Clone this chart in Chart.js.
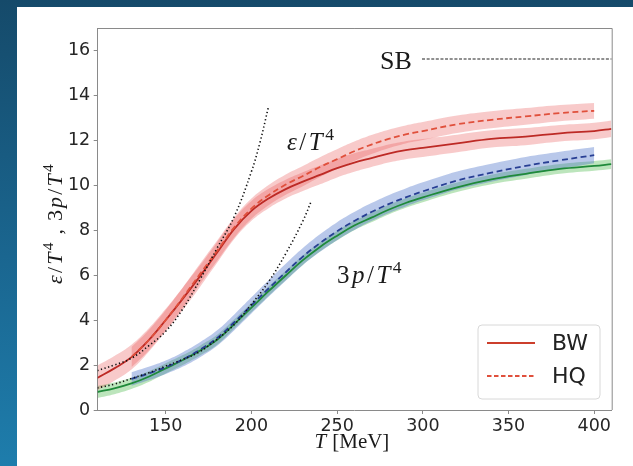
<!DOCTYPE html>
<html>
<head>
<meta charset="utf-8">
<script src="https://cdn.jsdelivr.net/npm/chart.js@4.4.1/dist/chart.umd.min.js"></script>
<style>
  html, body { margin:0; padding:0; }
  body { width:633px; height:466px; overflow:hidden; position:relative;
         background: linear-gradient(to bottom, #154a6a 0%, #1a6690 55%, #1e7dac 100%); }
  #wrap { position:absolute; left:17px; top:7px; width:616px; height:459px; background:#ffffff; }
  canvas { display:block; }
</style>
</head>
<body>
<div id="wrap"><canvas id="c" width="616" height="459"></canvas></div>
<script>
// ---------- data ----------
const xTicks = [150, 200, 250, 300, 350, 400];
const yTicks = [0, 2, 4, 6, 8, 10, 12, 14, 16];

// BW (solid) temperatures and values
const T_BW = [110,120,130,140,150,160,170,180,190,200,210,220,230,240,250,260,270,280,290,300,320,340,360,380,400,410];
const eps_BW = [1.42,1.85,2.35,3.1,4.0,4.95,5.95,7.0,8.05,8.85,9.4,9.82,10.15,10.45,10.75,11.0,11.2,11.4,11.55,11.65,11.85,12.05,12.15,12.3,12.4,12.5];
const eps_BW_err = [0.55,0.55,0.55,0.52,0.5,0.5,0.48,0.46,0.45,0.44,0.43,0.42,0.42,0.42,0.41,0.41,0.4,0.4,0.4,0.4,0.39,0.38,0.38,0.37,0.37,0.37];
const p3_BW = [0.8,0.96,1.18,1.48,1.85,2.22,2.64,3.12,3.82,4.55,5.28,5.98,6.66,7.25,7.75,8.2,8.55,8.9,9.2,9.45,9.9,10.25,10.5,10.72,10.85,10.93];
const p3_BW_err = [0.27,0.26,0.25,0.24,0.23,0.22,0.22,0.22,0.21,0.21,0.21,0.21,0.21,0.21,0.21,0.21,0.21,0.21,0.21,0.21,0.21,0.21,0.22,0.22,0.22,0.22];

// HQ (dashed)
const T_HQ = [130,140,150,160,170,180,190,200,210,220,230,240,250,260,270,280,290,300,320,340,360,380,400];
const eps_HQ = [2.35,3.1,4.0,5.0,6.05,7.08,8.12,8.95,9.55,10.02,10.4,10.8,11.15,11.5,11.8,12.05,12.25,12.4,12.7,12.9,13.05,13.2,13.3];
const eps_HQ_err = [0.45,0.45,0.45,0.45,0.45,0.45,0.45,0.45,0.45,0.45,0.45,0.44,0.44,0.43,0.42,0.41,0.4,0.4,0.39,0.38,0.37,0.36,0.35];
const p3_HQ = [1.38,1.62,1.9,2.25,2.68,3.2,3.9,4.65,5.4,6.12,6.82,7.42,7.95,8.4,8.8,9.15,9.45,9.72,10.2,10.55,10.85,11.1,11.33];
const p3_HQ_err = [0.3,0.3,0.3,0.32,0.33,0.34,0.35,0.36,0.37,0.38,0.38,0.39,0.4,0.4,0.4,0.4,0.4,0.4,0.4,0.4,0.4,0.38,0.36];

// HRG (dotted black)
const T_HRG_E = [110,120,130,140,150,160,170,180,190,200,205,210];
const eps_HRG = [1.75,2.0,2.3,2.85,3.5,4.5,5.8,7.2,8.6,10.6,11.9,13.5];
const T_HRG_P = [110,120,130,140,150,160,170,180,190,200,210,220,230,235];
const p3_HRG = [0.98,1.15,1.4,1.65,1.95,2.25,2.6,3.15,3.8,4.7,5.7,6.95,8.4,9.3];

// Stefan-Boltzmann limit
const T_SB = [299.5, 410.2];
const SB_level = [15.6, 15.6];

// ---------- helpers ----------
const pts = (xs, ys) => xs.map((x, i) => ({x: x, y: ys[i]}));
const upper = (xs, ys, es) => xs.map((x, i) => ({x: x, y: ys[i] + es[i]}));
const lower = (xs, ys, es) => xs.map((x, i) => ({x: x, y: ys[i] - es[i]}));

const RED_BAND = 'rgba(232,80,80,0.30)';
const BLUE_BAND = 'rgba(70,110,200,0.38)';
const GREEN_BAND = 'rgba(60,180,60,0.34)';
const BW_RED = '#bd2a25';
const HQ_RED = '#e0503c';
const GREEN = '#1f8a3a';
const BLUE = '#283f94';

function band(xs, ys, es, color) {
  return [
    { data: upper(xs, ys, es), borderWidth: 0, borderColor: 'rgba(0,0,0,0)', pointRadius: 0,
      fill: '+1', backgroundColor: color, order: 20 },
    { data: lower(xs, ys, es), borderWidth: 0, borderColor: 'rgba(0,0,0,0)', pointRadius: 0,
      fill: false, order: 20 }
  ];
}
function line(xs, ys, color, dash, width, order) {
  return { data: pts(xs, ys), borderColor: color, borderWidth: width, borderDash: dash,
           pointRadius: 0, fill: false, order: order };
}

const datasets = [
  ...band(T_BW, eps_BW, eps_BW_err, RED_BAND),
  ...band(T_HQ, eps_HQ, eps_HQ_err, RED_BAND),
  ...band(T_HQ, p3_HQ, p3_HQ_err, BLUE_BAND),
  ...band(T_BW, p3_BW, p3_BW_err, GREEN_BAND),
  line(T_BW, eps_BW, BW_RED, [], 1.8, 2),
  line(T_HQ, eps_HQ, HQ_RED, [6, 3.5], 1.8, 1),
  line(T_BW, p3_BW, GREEN, [], 1.8, 2),
  line(T_HQ, p3_HQ, BLUE, [6, 3.5], 1.8, 1),
  line(T_HRG_E, eps_HRG, '#111', [1.3, 2.5], 1.6, 0),
  line(T_HRG_P, p3_HRG, '#111', [1.3, 2.5], 1.6, 0),
  line(T_SB, SB_level, '#222', [3, 1.6], 1.1, 0)
];

// math-like text runs
function drawRuns(ctx, runs, x, y, size, align) {
  const fam = '"Liberation Serif", "DejaVu Serif", serif';
  const parts = runs.map(r => {
    const s = r.sup ? size * 0.7 : size;
    const f = (r.it ? 'italic ' : '') + s + 'px ' + fam;
    ctx.font = f;
    const w = ctx.measureText(r.t).width;
    return { r, f, w, gap: (r.gap !== undefined ? r.gap : size * 0.1) };
  });
  let total = parts.reduce((a, p) => a + p.w + p.gap, 0);
  let cx = align === 'center' ? x - total / 2 : x;
  ctx.textAlign = 'left';
  ctx.textBaseline = 'alphabetic';
  for (const p of parts) {
    ctx.font = p.f;
    ctx.fillText(p.r.t, cx, p.r.sup ? y - size * 0.42 : y);
    cx += p.w + p.gap;
  }
}

const eps4 = [{t:'ε', it:true}, {t:'/'}, {t:'T', it:true}, {t:'4', sup:true}];
const p4 = [{t:'3'}, {t:'p', it:true}, {t:'/'}, {t:'T', it:true}, {t:'4', sup:true}];

const decor = {
  id: 'decor',
  afterDraw(chart) {
    const ctx = chart.ctx;
    const a = chart.chartArea;
    ctx.save();
    // top/right spines
    ctx.strokeStyle = '#8a8a8a';
    ctx.lineWidth = 1;
    ctx.beginPath();
    ctx.moveTo(a.left, a.top + 0.5); ctx.lineTo(a.right + 0.5, a.top + 0.5);
    ctx.lineTo(a.right + 0.5, a.bottom);
    ctx.stroke();

    ctx.fillStyle = '#1a1a1a';
    // SB label
    ctx.font = '26px "Liberation Serif", serif';
    ctx.textBaseline = 'alphabetic';
    ctx.textAlign = 'left';
    ctx.fillText('SB', 363, 62);
    // curve labels
    drawRuns(ctx, eps4, 270, 143, 25, 'left');
    drawRuns(ctx, p4, 320, 276, 25, 'left');
    // x title
    drawRuns(ctx, [{t:'T', it:true, gap:6}, {t:'[MeV]'}], 336, 441, 21, 'center');
    // y title
    ctx.save();
    ctx.translate(45, 216);
    ctx.rotate(-Math.PI / 2);
    drawRuns(ctx, [...eps4.slice(0,3), {t:'4', sup:true, gap:8}, {t:',', gap:8}, ...p4], 0, 0, 22, 'center');
    ctx.restore();

    // legend
    const bx = 461, by = 318, bw = 122, bh = 74, rr = 4;
    ctx.fillStyle = 'rgba(255,255,255,0.85)';
    ctx.strokeStyle = '#d8d8d8';
    ctx.lineWidth = 1;
    ctx.beginPath();
    ctx.moveTo(bx + rr, by); ctx.lineTo(bx + bw - rr, by); ctx.arcTo(bx + bw, by, bx + bw, by + rr, rr);
    ctx.lineTo(bx + bw, by + bh - rr); ctx.arcTo(bx + bw, by + bh, bx + bw - rr, by + bh, rr);
    ctx.lineTo(bx + rr, by + bh); ctx.arcTo(bx, by + bh, bx, by + bh - rr, rr);
    ctx.lineTo(bx, by + rr); ctx.arcTo(bx, by, bx + rr, by, rr);
    ctx.closePath(); ctx.fill(); ctx.stroke();
    const entries = [{t:'BW', c:'#cc3f2c', d:[] , y:336}, {t:'HQ', c:HQ_RED, d:[4.5, 2.5], y:369}];
    for (const e of entries) {
      ctx.strokeStyle = e.c; ctx.lineWidth = 1.8; ctx.setLineDash(e.d);
      ctx.beginPath(); ctx.moveTo(470, e.y); ctx.lineTo(518, e.y); ctx.stroke();
      ctx.setLineDash([]);
      ctx.fillStyle = '#222';
      ctx.font = '22px "DejaVu Sans", sans-serif';
      ctx.textBaseline = 'middle';
      ctx.fillText(e.t, 535, e.y + 1);
    }
    ctx.restore();
  }
};

new Chart(document.getElementById('c'), {
  type: 'line',
  data: { datasets: datasets },
  options: {
    responsive: false,
    animation: false,
    events: [],
    layout: { padding: { left: 0, top: 21, right: 21.3, bottom: 0 } },
    plugins: { legend: { display: false }, tooltip: { enabled: false } },
    elements: { line: { tension: 0.4 } },
    scales: {
      x: {
        type: 'linear', min: 110.3, max: 410.2,
        afterBuildTicks: s => { s.ticks = xTicks.map(v => ({value: v})); },
        afterFit: s => { s.height = 56; },
        grid: { drawOnChartArea: false, drawTicks: true, tickLength: 4, color: '#8a8a8a' },
        border: { display: true, color: '#8a8a8a', width: 1 },
        ticks: { color: '#262626', padding: 2, maxRotation: 0,
                 font: { family: '"DejaVu Sans", sans-serif', size: 17.5 } }
      },
      y: {
        type: 'linear', min: 0, max: 16.98,
        afterBuildTicks: s => { s.ticks = yTicks.map(v => ({value: v})); },
        afterFit: s => { s.width = 80.7; },
        grid: { drawOnChartArea: false, drawTicks: true, tickLength: 4, color: '#8a8a8a' },
        border: { display: true, color: '#8a8a8a', width: 1 },
        ticks: { color: '#262626', padding: 3.5,
                 font: { family: '"DejaVu Sans", sans-serif', size: 17.5 } }
      }
    }
  },
  plugins: [decor]
});
</script>
</body>
</html>
